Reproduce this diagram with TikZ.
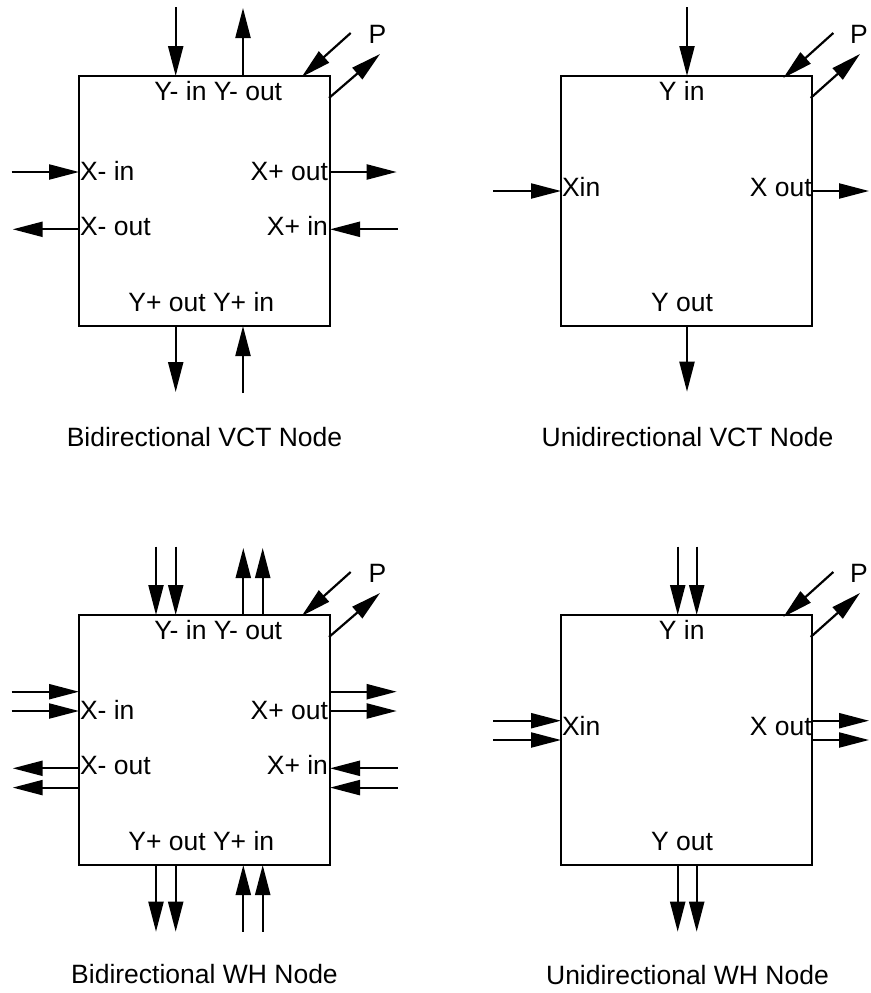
\documentclass[tikz,border=0pt]{standalone}
\usepackage{fontspec}
\setmainfont{Liberation Sans}
\usetikzlibrary{arrows.meta}
\begin{document}
\begin{tikzpicture}[x=1pt,y=-1pt,line width=2.2pt,
  >={Triangle[length=30pt,width=15pt]},
  lbl/.style={inner sep=0pt,outer sep=0pt,font=\fontsize{26.5}{31}\selectfont},
  nodebox/.style={draw,line width=2.2pt,minimum width=251pt,minimum height=250pt,inner sep=0pt,outer sep=0pt,anchor=north west}]
\useasboundingbox (0,0) rectangle (870,993);

% ---------- Panel A: Bidirectional VCT ----------
\node[nodebox] (A) at (79,76) {};
\coordinate (Ayi) at (175.7,7);
\coordinate (Ayo) at (243,8);
\coordinate (Axi) at (11.7,172);
\coordinate (Axo) at (12.7,229.3);
\coordinate (Axpo) at (396.7,172);
\coordinate (Axpi) at (397.7,229.3);
\coordinate (Aypo) at (175.7,392);
\coordinate (Aypi) at (243,393);
\coordinate (Api1) at (350.7,33);
\coordinate (Api2) at (301.7,77);
\coordinate (Apo1) at (329,98);
\coordinate (Apo2) at (380,54);
\draw[->] (Ayi) -- (Ayi |- A.north);
\draw[->] (Ayo |- A.north) -- (Ayo);
\draw[->] (Axi) -- (Axi -| A.west);
\draw[->] (Axo -| A.west) -- (Axo);
\draw[->] (Axpo -| A.east) -- (Axpo);
\draw[->] (Axpi) -- (Axpi -| A.east);
\draw[->] (Aypo |- A.south) -- (Aypo);
\draw[->] (Aypi) -- (Aypi |- A.south);
\draw[->] (Api1) -- (Api2);
\draw[->] (Apo1) -- (Apo2);
\node[lbl,anchor=base] (AP) at (377.5,43) {P};
\node[lbl,anchor=base] (Ayl) at (218.3,100) {Y- in Y- out};
\node[lbl,anchor=base west] (Axil) at (80,180) {X- in};
\node[lbl,anchor=base east] (Axpol) at (328,180) {X+ out};
\node[lbl,anchor=base west] (Axol) at (80,235) {X- out};
\node[lbl,anchor=base east] (Axpil) at (328,235) {X+ in};
\node[lbl,anchor=base] (Aypl) at (201.3,311.7) {Y+ out Y+ in};
\node[lbl,anchor=base] (Acap) at (204.5,446.7) {Bidirectional VCT Node};

% ---------- Panel B: Unidirectional VCT ----------
\node[nodebox] (B) at (561,76) {};
\coordinate (Byi) at (687,7);
\coordinate (Bxi) at (493.3,191);
\coordinate (Bxo) at (869,191);
\coordinate (Byo) at (687,391.7);
\coordinate (Bpi1) at (833.3,33);
\coordinate (Bpi2) at (783.3,78);
\coordinate (Bpo1) at (810.7,98);
\coordinate (Bpo2) at (860,54);
\draw[->] (Byi) -- (Byi |- B.north);
\draw[->] (Bxi) -- (Bxi -| B.west);
\draw[->] (Bxo -| B.east) -- (Bxo);
\draw[->] (Byo |- B.south) -- (Byo);
\draw[->] (Bpi1) -- (Bpi2);
\draw[->] (Bpo1) -- (Bpo2);
\node[lbl,anchor=base] (BP) at (859,43) {P};
\node[lbl,anchor=base] (Byl) at (681.7,100) {Y in};
\node[lbl,anchor=base west] (Bxil) at (562,196.7) {Xin};
\node[lbl,anchor=base east] (Bxol) at (811.7,196.7) {X out};
\node[lbl,anchor=base] (Byol) at (682,311.7) {Y out};
\node[lbl,anchor=base] (Bcap) at (687.5,446.7) {Unidirectional VCT Node};

% ---------- Panel C: Bidirectional WH ----------
\begin{scope}[shift={(0,539)}]
\node[nodebox] (C) at (79,76) {};
\coordinate (Cyi1) at (156,7.7);
\coordinate (Cyi2) at (175.7,7.7);
\coordinate (Cyo1) at (243.3,9);
\coordinate (Cyo2) at (262.7,9);
\coordinate (Cxi1) at (11.7,152.7);
\coordinate (Cxi2) at (11.7,172);
\coordinate (Cxo1) at (12.7,229.3);
\coordinate (Cxo2) at (12.7,248.6);
\coordinate (Cxpo1) at (396.7,152.7);
\coordinate (Cxpo2) at (396.7,172);
\coordinate (Cxpi1) at (397.7,229.3);
\coordinate (Cxpi2) at (397.7,248.6);
\coordinate (Cypo1) at (156,392.7);
\coordinate (Cypo2) at (175.7,392.7);
\coordinate (Cypi1) at (243.3,392.7);
\coordinate (Cypi2) at (262.7,392.7);
\coordinate (Cpi1) at (350.7,33);
\coordinate (Cpi2) at (301.7,77);
\coordinate (Cpo1) at (329,98);
\coordinate (Cpo2) at (380,54);
\foreach \k in {1,2}{
  \draw[->] (Cyi\k) -- (Cyi\k |- C.north);
  \draw[->] (Cyo\k |- C.north) -- (Cyo\k);
  \draw[->] (Cxi\k) -- (Cxi\k -| C.west);
  \draw[->] (Cxo\k -| C.west) -- (Cxo\k);
  \draw[->] (Cxpo\k -| C.east) -- (Cxpo\k);
  \draw[->] (Cxpi\k) -- (Cxpi\k -| C.east);
  \draw[->] (Cypo\k |- C.south) -- (Cypo\k);
  \draw[->] (Cypi\k) -- (Cypi\k |- C.south);
}
\draw[->] (Cpi1) -- (Cpi2);
\draw[->] (Cpo1) -- (Cpo2);
\node[lbl,anchor=base] (CP) at (377.5,43) {P};
\node[lbl,anchor=base] (Cyl) at (218.3,100) {Y- in Y- out};
\node[lbl,anchor=base west] (Cxil) at (80,180) {X- in};
\node[lbl,anchor=base east] (Cxpol) at (328,180) {X+ out};
\node[lbl,anchor=base west] (Cxol) at (80,235) {X- out};
\node[lbl,anchor=base east] (Cxpil) at (328,235) {X+ in};
\node[lbl,anchor=base] (Cypl) at (201.3,311.7) {Y+ out Y+ in};
\node[lbl,anchor=base] (Ccap) at (204.5,444.5) {Bidirectional WH Node};
\end{scope}

% ---------- Panel D: Unidirectional WH ----------
\begin{scope}[shift={(0,539)}]
\node[nodebox] (D) at (561,76) {};
\coordinate (Dyi1) at (677.7,7.7);
\coordinate (Dyi2) at (696.7,7.7);
\coordinate (Dxi1) at (493.3,181.7);
\coordinate (Dxi2) at (493.3,201);
\coordinate (Dxo1) at (869,181.7);
\coordinate (Dxo2) at (869,201);
\coordinate (Dyo1) at (677.7,392.7);
\coordinate (Dyo2) at (696.7,392.7);
\coordinate (Dpi1) at (833.3,33);
\coordinate (Dpi2) at (783.3,78);
\coordinate (Dpo1) at (810.7,98);
\coordinate (Dpo2) at (860,54);
\foreach \k in {1,2}{
  \draw[->] (Dyi\k) -- (Dyi\k |- D.north);
  \draw[->] (Dxi\k) -- (Dxi\k -| D.west);
  \draw[->] (Dxo\k -| D.east) -- (Dxo\k);
  \draw[->] (Dyo\k |- D.south) -- (Dyo\k);
}
\draw[->] (Dpi1) -- (Dpi2);
\draw[->] (Dpo1) -- (Dpo2);
\node[lbl,anchor=base] (DP) at (859,43) {P};
\node[lbl,anchor=base] (Dyl) at (681.7,100) {Y in};
\node[lbl,anchor=base west] (Dxil) at (562,196.7) {Xin};
\node[lbl,anchor=base east] (Dxol) at (811.7,196.7) {X out};
\node[lbl,anchor=base] (Dyol) at (682,311.7) {Y out};
\node[lbl,anchor=base] (Dcap) at (687.5,445.5) {Unidirectional WH Node};
\end{scope}
\end{tikzpicture}
\end{document}
